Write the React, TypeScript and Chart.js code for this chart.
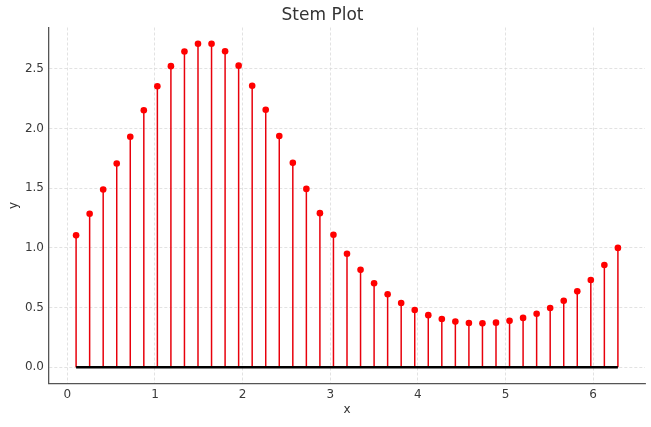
import React, { useEffect, useRef } from 'react';
import { Chart } from 'chart.js/auto';

// sample positions (0.1 .. 2π, 41 stems) and heights
const xs: number[] = [
  0.1, 0.2546, 0.4092, 0.5637, 0.7183, 0.8729, 1.0275, 1.1821, 1.3366, 1.4912,
  1.6458, 1.8004, 1.955, 2.1095, 2.2641, 2.4187, 2.5733, 2.7279, 2.8824, 3.037,
  3.1916, 3.3462, 3.5008, 3.6553, 3.8099, 3.9645, 4.1191, 4.2737, 4.4282, 4.5828,
  4.7374, 4.892, 5.0466, 5.2011, 5.3557, 5.5103, 5.6649, 5.8195, 5.974, 6.1286,
  6.2832,
];
const ys: number[] = [
  1.105, 1.286, 1.489, 1.707, 1.931, 2.152, 2.353, 2.522, 2.645, 2.71,
  2.71, 2.647, 2.526, 2.358, 2.157, 1.937, 1.712, 1.494, 1.291, 1.11,
  0.951, 0.816, 0.704, 0.612, 0.538, 0.48, 0.437, 0.404, 0.383, 0.371,
  0.368, 0.374, 0.389, 0.414, 0.449, 0.497, 0.558, 0.636, 0.731, 0.857,
  1.0,
];
const baseline = 0;

const xTicks = [0, 1, 2, 3, 4, 5, 6];
const yTicks = [0, 0.5, 1, 1.5, 2, 2.5];

const StemChart: React.FC = () => {
  const canvasRef = useRef<HTMLCanvasElement>(null);

  useEffect(() => {
    const ctx = canvasRef.current?.getContext('2d');
    if (!ctx) {
      return;
    }
    Chart.defaults.font.family = '"DejaVu Sans", sans-serif';

    const points = xs.map((x, i) => ({ x, y: ys[i] }));
    const stems = xs.flatMap((x, i) => [
      { x, y: baseline },
      { x, y: ys[i] },
      { x, y: null as number | null },
    ]);
    const base = [
      { x: xs[0], y: baseline },
      { x: xs[xs.length - 1], y: baseline },
    ];

    const xMin = Math.min(...xs);
    const xMax = Math.max(...xs);
    const yMax = Math.max(...ys);
    const xPad = (xMax - xMin) * 0.05;
    const yPad = (yMax - baseline) * 0.05;

    const gridLook = { color: '#dadada', lineWidth: 0.8, drawTicks: false };
    const borderLook = { color: '#555', width: 1.3, dash: [3, 2] };

    const chart = new Chart(ctx, {
      type: 'line',
      data: {
        datasets: [
          {
            label: 'markers',
            data: points,
            showLine: false,
            pointRadius: 3.3,
            pointBackgroundColor: 'red',
            pointBorderColor: 'red',
            pointBorderWidth: 0,
          },
          {
            label: 'baseline',
            data: base,
            borderColor: '#000',
            borderWidth: 2.5,
            pointRadius: 0,
          },
          {
            label: 'stems',
            data: stems,
            borderColor: '#e8000b',
            borderWidth: 1.5,
            pointRadius: 0,
            spanGaps: false,
          },
        ],
      },
      options: {
        animation: false,
        responsive: false,
        layout: { padding: { left: 0, right: 6, top: 0, bottom: 0 } },
        plugins: {
          legend: { display: false },
          tooltip: { enabled: false },
          title: {
            display: true,
            text: 'Stem Plot',
            color: '#333',
            font: { size: 17, weight: 'normal' },
            padding: { top: 5.5, bottom: 1.6 },
          },
        },
        scales: {
          x: {
            type: 'linear',
            min: xMin - xPad,
            max: xMax + xPad,
            afterFit: (s: any) => {
              s.height = 43.5;
            },
            afterBuildTicks: (s: any) => {
              s.ticks = xTicks.map((v) => ({ value: v }));
            },
            ticks: {
              color: '#3a3a3a',
              font: { size: 12 },
              padding: 4.5,
              maxRotation: 0,
              callback: (v: any) => String(v),
            },
            grid: gridLook,
            border: borderLook,
            title: {
              display: true,
              text: 'x',
              color: '#333',
              font: { size: 12 },
              padding: { top: 0, bottom: 9.5 },
            },
          },
          y: {
            type: 'linear',
            min: baseline - yPad,
            max: yMax + yPad,
            afterFit: (s: any) => {
              s.width = 49;
            },
            afterBuildTicks: (s: any) => {
              s.ticks = yTicks.map((v) => ({ value: v }));
            },
            ticks: {
              color: '#3a3a3a',
              font: { size: 12 },
              padding: 5,
              callback: (v: any) => Number(v).toFixed(1),
            },
            grid: gridLook,
            border: borderLook,
            title: {
              display: true,
              text: 'y',
              color: '#333',
              font: { size: 12 },
              padding: { top: 7, bottom: 0 },
            },
          },
        },
      },
    });

    return () => {
      chart.destroy();
    };
  }, []);

  return (
    <div style={{ position: 'absolute', left: 0, top: 0, width: 651, height: 427, background: '#fff' }}>
      <canvas ref={canvasRef} width={651} height={427} style={{ display: 'block' }}></canvas>
    </div>
  );
};

export default function App() {
  return <StemChart />;
}
